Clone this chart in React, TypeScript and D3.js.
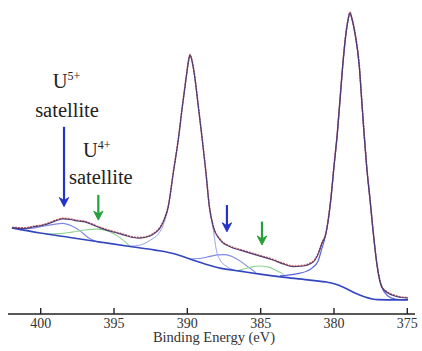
import React from "react";
import * as d3 from "d3";

// Readings taken off the spectrum: [binding energy (eV), intensity (a.u.)]
const envelope: [number, number][] = [
  [401.96, 28.7], [401.07, 28.5], [400.53, 29.0], [399.91, 29.5], [399.37, 30.3],
  [398.89, 31.2], [398.48, 31.7], [398.0, 31.5], [397.46, 31.0], [396.98, 30.7],
  [396.5, 29.8], [395.96, 28.7], [395.41, 27.8], [394.8, 27.0], [394.25, 26.2],
  [393.71, 25.5], [393.24, 25.3], [392.55, 26.0], [392.21, 27.0], [391.86, 28.7],
  [391.59, 31.3], [391.3, 35.8], [390.96, 47.0], [390.62, 58.0], [390.34, 69.1],
  [390.04, 80.2], [389.92, 84.3], [389.82, 86.3], [389.7, 84.7], [389.53, 80.2],
  [389.25, 69.1], [388.98, 58.0], [388.73, 47.0], [388.5, 35.8], [388.23, 29.1],
  [387.77, 24.7], [387.09, 22.4], [386.41, 21.3], [385.73, 20.3], [385.05, 19.3],
  [384.16, 18.0], [383.48, 16.7], [382.79, 15.8], [382.11, 16.0], [381.64, 16.7],
  [381.29, 18.0], [381.02, 20.7], [380.84, 23.3], [380.54, 27.0], [380.22, 38.0],
  [380.0, 49.1], [379.77, 60.3], [379.59, 71.3], [379.41, 82.4], [379.18, 93.6],
  [379.04, 98.0], [378.91, 100.4], [378.77, 98.3], [378.57, 93.6], [378.27, 82.4],
  [378.11, 71.3], [377.95, 60.3], [377.77, 49.1], [377.54, 38.0], [377.32, 27.0],
  [377.05, 15.8], [376.75, 9.1], [376.32, 7.0], [375.84, 6.0], [375.43, 5.5],
  [374.95, 5.3],
];

const background: [number, number][] = [
  [401.96, 28.7], [400.05, 27.0], [398.0, 25.5], [395.96, 24.0], [393.91, 22.5],
  [392.21, 21.3], [390.84, 20.0], [389.82, 18.3], [388.8, 16.7], [387.77, 15.3],
  [386.41, 14.3], [385.05, 13.3], [383.33, 12.2], [381.64, 11.3], [380.61, 10.7],
  [379.93, 10.0], [379.25, 8.7], [378.57, 7.0], [377.89, 5.7], [377.0, 4.8],
  [375.84, 4.7], [374.95, 4.7],
];

const mainPeak1: [number, number][] = [
  [393.9, 22.6], [393.2, 23.0], [392.53, 24.6], [392.0, 26.6], [391.7, 29.0],
  [391.45, 32.6], [391.3, 35.8], [390.96, 47.0], [390.62, 58.0], [390.34, 69.1],
  [390.04, 80.2], [389.92, 84.3], [389.82, 86.3], [389.7, 84.7], [389.53, 80.2],
  [389.25, 69.1], [388.98, 58.0], [388.73, 47.0], [388.5, 35.8], [388.23, 28.0],
  [388.0, 20.8], [387.77, 18.0], [387.36, 16.0], [386.75, 14.6],
];

const mainPeak2: [number, number][] = [
  [383.68, 12.7], [382.31, 13.6], [381.5, 15.3], [381.09, 17.6], [380.84, 21.6],
  [380.54, 27.0], [380.22, 38.0], [380.0, 49.1], [379.77, 60.3], [379.59, 71.3],
  [379.41, 82.4], [379.18, 93.6], [379.04, 98.0], [378.91, 100.4], [378.77, 98.3],
  [378.57, 93.6], [378.27, 82.4], [378.11, 71.3], [377.95, 60.3], [377.77, 49.1],
  [377.54, 38.0], [377.32, 27.0], [377.05, 15.8], [376.75, 9.1], [376.32, 6.0],
  [375.84, 5.0], [375.16, 4.7],
];

const satU5a: [number, number][] = [
  [401.55, 28.3], [400.73, 28.5], [399.91, 29.2], [399.23, 29.8], [398.48, 30.2],
  [397.87, 29.3], [397.32, 27.7], [396.77, 25.5], [396.3, 24.3], [395.82, 23.7],
];
const satU4a: [number, number][] = [
  [399.71, 26.7], [398.68, 26.8], [397.87, 27.3], [396.98, 28.0], [396.16, 28.3],
  [395.41, 27.7], [394.87, 26.3], [394.39, 24.7], [393.91, 22.5],
];
const satU5b: [number, number][] = [
  [389.82, 18.3], [389.14, 18.5], [388.45, 19.2], [387.91, 19.7], [387.43, 19.8],
  [386.95, 19.2], [386.41, 17.7], [385.86, 15.7], [385.32, 13.8],
];
const satU4b: [number, number][] = [
  [386.68, 14.3], [386.14, 15.0], [385.59, 15.7], [385.05, 16.0], [384.51, 15.7],
  [383.95, 14.5], [383.41, 13.2],
];

// arrows: [eV, top intensity, tip intensity]
const blueArrows: [number, number, number][] = [[398.41, 62.4, 35.8], [387.3, 36.3, 27.4]];
const greenArrows: [number, number, number][] = [[396.07, 39.7, 31.3], [384.91, 30.8, 23.0]];

const xTicks = [400, 395, 390, 385, 380, 375];

const W = 422;
const H = 351;
const serif = "Liberation Serif, Times New Roman, Times, serif";

export default function App() {
  const x = d3.scaleLinear().domain([400, 375]).range([40.7, 407.3]);
  const y = d3.scaleLinear().domain([0, 100]).range([314, 14]);
  const line = d3
    .line<[number, number]>()
    .x((d) => x(d[0]))
    .y((d) => y(d[1]))
    .curve(d3.curveMonotoneX);

  const arrow = (d: [number, number, number], color: string, key: string) => {
    const ax = x(d[0]);
    const y0 = y(d[1]);
    const y1 = y(d[2]);
    return (
      <g key={key}>
        <line x1={ax} x2={ax} y1={y0} y2={y1 - 5} stroke={color} strokeWidth={2.2} />
        <path
          d={`M${ax},${y1} L${ax - 4.6},${y1 - 9} L${ax},${y1 - 6} L${ax + 4.6},${y1 - 9} Z`}
          fill={color}
          stroke={color}
          strokeWidth={1}
          strokeLinejoin="round"
        />
      </g>
    );
  };

  const axisY = y(0);
  const txt = { fontFamily: serif };

  return (
    <svg
      width={W}
      height={H}
      style={{ position: "absolute", left: 0, top: 0, background: "#fff" }}
    >
      {/* fitted components */}
      <path d={line(satU5a) || ""} fill="none" stroke="#7f88e6" strokeWidth={1.1} />
      <path d={line(satU4a) || ""} fill="none" stroke="#8fd48f" strokeWidth={1.1} />
      <path d={line(satU5b) || ""} fill="none" stroke="#7f88e6" strokeWidth={1.1} />
      <path d={line(satU4b) || ""} fill="none" stroke="#8fd48f" strokeWidth={1.1} />
      <path d={line(mainPeak1) || ""} fill="none" stroke="#9aa0ec" strokeWidth={1} />
      <path d={line(mainPeak2) || ""} fill="none" stroke="#5a64d8" strokeWidth={1.2} />

      {/* background */}
      <path d={line(background) || ""} fill="none" stroke="#3346c0" strokeWidth={1.6} />

      {/* measured data + envelope */}
      <path
        d={line(envelope) || ""}
        fill="none"
        stroke="#d0605a"
        strokeWidth={1.6}
        strokeDasharray="2 1"
        transform="translate(0,-0.6)"
      />
      <path d={line(envelope) || ""} fill="none" stroke="#3b306e" strokeWidth={1.2} opacity={0.85} />

      {/* arrows */}
      {blueArrows.map((d, i) => arrow(d, "#2434c8", "b" + i))}
      {greenArrows.map((d, i) => arrow(d, "#23a13a", "g" + i))}

      {/* labels */}
      <g fill="#222" textAnchor="middle">
        <text x={x(398.41) + 2.5} y={88} fontSize={20.5} style={txt}>
          U<tspan fontSize={12} dy={-8}>5+</tspan>
        </text>
        <text x={x(398.41) + 3} y={116.5} fontSize={20.5} style={txt}>
          satellite
        </text>
        <text x={x(396.07) - 1.5} y={156.5} fontSize={20.5} style={txt}>
          U<tspan fontSize={12} dy={-8}>4+</tspan>
        </text>
        <text x={x(396.07) + 2.5} y={183.5} fontSize={20.5} style={txt}>
          satellite
        </text>
      </g>

      {/* x axis */}
      <line x1={8} x2={415} y1={axisY} y2={axisY} stroke="#222" strokeWidth={1.6} />
      {xTicks.map((t) => (
        <g key={t} transform={`translate(${x(t)},${axisY})`}>
          <line y1={0} y2={-6} stroke="#222" strokeWidth={1.4} />
          <text y={13.5} fontSize={14} fill="#333" textAnchor="middle" style={txt}>
            {t}
          </text>
        </g>
      ))}
      <text x={214} y={342} fontSize={14.5} fill="#333" textAnchor="middle" style={txt}>
        Binding Energy (eV)
      </text>
    </svg>
  );
}
